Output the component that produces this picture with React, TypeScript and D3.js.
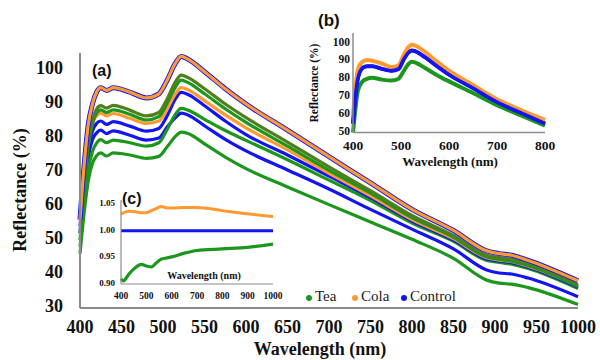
import * as d3 from 'd3'

// Main panel (a): reflectance spectra, 8 curves
const WL = [400, 405, 410, 415, 420, 425, 432, 440, 460, 480, 495, 505, 515, 522, 530, 550, 575, 600, 650, 700, 750, 800, 850, 890, 905, 920, 940, 1000]

const colaTop = [56, 72, 84, 90, 93.5, 94.8, 94, 94.8, 93.5, 91.8, 93, 97, 102, 104, 103.2, 99.5, 94.5, 90, 82.3, 74.5, 66.8, 59, 52.8, 46.8, 46, 45.5, 44, 38]
const teaOlive = [52, 67, 79, 85, 88.5, 89.5, 88.8, 89.6, 88.2, 86.5, 87.5, 91.5, 96.5, 98.5, 97.8, 94.5, 90, 86, 78.8, 71.5, 64.5, 57.2, 51.3, 45.5, 44.8, 44.3, 43, 36.8]
const teaHigh = [50, 65, 77.5, 84, 87.3, 88.3, 87.5, 88.3, 87, 85.3, 86.3, 90.2, 95, 97, 96.3, 93, 88.6, 84.6, 77.6, 70.5, 63.8, 56.6, 50.8, 45, 44.3, 43.8, 42.5, 36.3]
const colaMid = [57, 70, 80, 84.5, 86.5, 87.3, 86.5, 87.2, 85.8, 84.3, 85, 88.5, 93, 94.8, 94.2, 91, 86.8, 83, 76.5, 69.6, 63, 56, 50.4, 44.8, 44.1, 43.6, 42.3, 36.5]
const controlHigh = [54, 67, 77, 82, 84.3, 85, 84, 84.8, 83.5, 82, 82.8, 86.5, 91.5, 93.4, 92.8, 89.5, 85, 81, 75, 68.8, 62.5, 55.6, 50, 44.4, 43.8, 43.3, 42, 36.1]
const teaMid = [48, 60, 70.5, 76, 78.5, 79.5, 78.6, 79.4, 78.6, 77.6, 78.6, 82.5, 87, 88.7, 88.2, 85.5, 82.2, 79.3, 73.6, 67.6, 61.6, 55, 49.6, 44, 43.4, 42.9, 41.6, 35.7]
const controlLow = [52, 65, 74.5, 79.5, 81.5, 82.3, 81.3, 82.1, 80.8, 79.4, 80, 83.2, 86, 87.3, 86.8, 83.6, 79.6, 76.2, 70.6, 65, 59, 53.2, 47.4, 41.2, 40.3, 40, 38.8, 33.3]
const teaLow = [46, 58, 67.5, 72.5, 74.8, 75.6, 74.7, 75.6, 75, 74, 74.6, 77.4, 80.5, 81.7, 81.3, 78.3, 74.4, 71, 65.6, 60.4, 55.3, 50.2, 44.6, 38.2, 37.3, 37, 36, 31]

const X_TICKS = [400, 450, 500, 550, 600, 650, 700, 750, 800, 850, 900, 950, 1000]
const Y_TICKS = [30, 40, 50, 60, 70, 80, 90, 100]

// Inset (b): mean spectra 400-800 nm
const WL_B = [400, 405, 410, 420, 430, 440, 460, 480, 495, 505, 515, 522, 530, 550, 575, 600, 650, 700, 750, 800]
const colaB = [60, 75, 85, 89.5, 90.5, 90, 88.5, 86.5, 87.5, 93, 97.5, 99, 98.5, 95, 89.5, 84.5, 76.5, 68.5, 62.5, 57]
const controlB = [55, 70, 80, 86, 87, 87, 85.5, 84.5, 85.5, 90.5, 94.5, 95.8, 95.3, 92, 87, 82.3, 74.8, 67, 61, 55]
const teaB = [50, 63, 73, 78.5, 80, 80.5, 79.5, 79, 80, 84, 88, 89.5, 89, 86, 82, 78.5, 72, 65.2, 59.5, 53.8]
const X_TICKS_B = [400, 500, 600, 700, 800]
const Y_TICKS_B = [50, 60, 70, 80, 90, 100]

// Inset (c): ratio to control
const WL_C = [400, 410, 430, 460, 480, 500, 520, 540, 560, 580, 600, 650, 700, 800, 900, 1000]
const colaC = [1.031, 1.034, 1.037, 1.036, 1.034, 1.034, 1.038, 1.042, 1.046, 1.043, 1.043, 1.044, 1.044, 1.038, 1.032, 1.027]
const controlC = [1, 1, 1, 1, 1, 1, 1, 1, 1, 1, 1, 1, 1, 1, 1, 1]
const teaC = [0.91, 0.906, 0.918, 0.932, 0.937, 0.934, 0.932, 0.94, 0.947, 0.949, 0.951, 0.958, 0.963, 0.966, 0.969, 0.975]
const X_TICKS_C = [400, 500, 600, 700, 800, 900, 1000]
const Y_TICKS_C = [0.9, 0.95, 1.0, 1.05]

const ORANGE = '#ff9a30'
const BLUE = '#1414f0'
const GREEN = '#1c961c'
const OLIVE = '#4f7f1f'
const AXIS = '#8c8c8c'
const SERIF = '"Liberation Serif", "Times New Roman", serif'
const SANS = '"Liberation Sans", Arial, sans-serif'

const mainSeries = [
  { values: teaLow, color: GREEN },
  { values: controlLow, color: BLUE },
  { values: teaMid, color: GREEN },
  { values: controlHigh, color: BLUE },
  { values: colaMid, color: ORANGE },
  { values: teaHigh, color: GREEN },
  { values: teaOlive, color: OLIVE },
  { values: colaTop, color: ORANGE, outline: BLUE },
]

const legend = [
  { label: 'Tea', color: GREEN },
  { label: 'Cola', color: ORANGE },
  { label: 'Control', color: BLUE },
]

export default function App() {
  // main scales
  const x = d3.scaleLinear().domain([400, 1000]).range([80, 578])
  const y = d3.scaleLinear().domain([30, 105]).range([308, 53])
  const mainLine = d3
    .line<number>()
    .x((_, i) => x(WL[i]))
    .y((d) => y(d))
    .curve(d3.curveMonotoneX)

  // inset b
  const xb = d3.scaleLinear().domain([400, 800]).range([353, 545])
  const yb = d3.scaleLinear().domain([50, 105.5]).range([132.5, 33])
  const lineB = d3
    .line<number>()
    .x((_, i) => xb(WL_B[i]))
    .y((d) => yb(d))
    .curve(d3.curveMonotoneX)

  // inset c
  const xc = d3.scaleLinear().domain([400, 1000]).range([121, 273])
  const yc = d3.scaleLinear().domain([0.9, 1.058]).range([284, 200])
  const lineC = d3
    .line<number>()
    .x((_, i) => xc(WL_C[i]))
    .y((d) => yc(d))
    .curve(d3.curveMonotoneX)

  return (
    <svg
      width={600}
      height={360}
      style={{ position: 'absolute', left: 0, top: 0, background: '#fff' }}
    >
      {/* main panel lines */}
      {mainSeries.map((s, i) => (
        <g key={i}>
          {s.outline && (
            <path d={mainLine(s.values) ?? ''} fill="none" stroke={s.outline} strokeWidth={5} />
          )}
          <path d={mainLine(s.values) ?? ''} fill="none" stroke={s.color} strokeWidth={3.2} />
        </g>
      ))}

      {/* main axes */}
      <line x1={x(400)} x2={x(1000)} y1={y(30)} y2={y(30)} stroke={AXIS} strokeWidth={2} />
      <line x1={x(400)} x2={x(400)} y1={y(30)} y2={y(105)} stroke={AXIS} strokeWidth={2} />
      {X_TICKS.map((t) => (
        <text
          key={t}
          x={x(t)}
          y={329}
          textAnchor="middle"
          dominantBaseline="middle"
          style={{ font: `bold 18px ${SERIF}`, fill: '#111' }}
        >
          {t}
        </text>
      ))}
      {Y_TICKS.map((t) => (
        <text
          key={t}
          x={63}
          y={y(t)}
          textAnchor="end"
          dominantBaseline="middle"
          style={{ font: `bold 18px ${SERIF}`, fill: '#111' }}
        >
          {t}
        </text>
      ))}
      <text x={320} y={355} textAnchor="middle" style={{ font: `bold 18px ${SERIF}`, fill: '#111' }}>
        Wavelength (nm)
      </text>
      <text
        transform="translate(22,190) rotate(-90)"
        textAnchor="middle"
        dominantBaseline="middle"
        style={{ font: `bold 18px ${SERIF}`, fill: '#111' }}
      >
        Reflectance (%)
      </text>
      <text x={92} y={76} style={{ font: `bold 16px ${SANS}`, fill: '#111' }}>
        (a)
      </text>

      {/* legend */}
      {legend.map((l, i) => {
        const lx = [309, 355, 404][i]
        return (
          <g key={l.label}>
            <circle cx={lx} cy={298} r={3} fill={l.color} />
            <text
              x={lx + 6}
              y={298}
              dominantBaseline="middle"
              style={{ font: `15px ${SERIF}`, fill: '#222' }}
            >
              {l.label}
            </text>
          </g>
        )
      })}

      {/* inset (b) */}
      <text x={318} y={26} style={{ font: `bold 17px ${SANS}`, fill: '#111' }}>
        (b)
      </text>
      {[
        { v: teaB, c: GREEN },
        { v: controlB, c: BLUE },
        { v: colaB, c: ORANGE },
      ].map((s, i) => (
        <path key={i} d={lineB(s.v) ?? ''} fill="none" stroke={s.c} strokeWidth={4} />
      ))}
      <path d={lineB(controlB) ?? ''} fill="none" stroke={BLUE} strokeWidth={3.5} />
      <line x1={xb(400)} x2={xb(800)} y1={yb(50)} y2={yb(50)} stroke={AXIS} strokeWidth={1.5} />
      <line x1={xb(400)} x2={xb(400)} y1={yb(50)} y2={yb(105.5)} stroke={AXIS} strokeWidth={1.5} />
      {X_TICKS_B.map((t) => (
        <text
          key={t}
          x={xb(t)}
          y={147}
          textAnchor="middle"
          dominantBaseline="middle"
          style={{ font: `bold 13.5px ${SERIF}`, fill: '#111' }}
        >
          {t}
        </text>
      ))}
      {Y_TICKS_B.map((t) => (
        <text
          key={t}
          x={350}
          y={yb(t)}
          textAnchor="end"
          dominantBaseline="middle"
          style={{ font: `bold 11.5px ${SERIF}`, fill: '#111' }}
        >
          {t}
        </text>
      ))}
      <text
        x={450}
        y={163}
        textAnchor="middle"
        dominantBaseline="middle"
        style={{ font: `bold 13px ${SERIF}`, fill: '#111' }}
      >
        Wavelength (nm)
      </text>
      <text
        transform="translate(315,83) rotate(-90)"
        textAnchor="middle"
        dominantBaseline="middle"
        style={{ font: `bold 11.5px ${SERIF}`, fill: '#111' }}
      >
        Reflectance  (%)
      </text>

      {/* inset (c) */}
      <text x={122} y={204} style={{ font: `bold 16px ${SANS}`, fill: '#111' }}>
        (c)
      </text>
      <path d={lineC(colaC) ?? ''} fill="none" stroke={ORANGE} strokeWidth={3} />
      <path d={lineC(controlC) ?? ''} fill="none" stroke={BLUE} strokeWidth={3} />
      <path d={lineC(teaC) ?? ''} fill="none" stroke={GREEN} strokeWidth={3.2} />
      <line x1={xc(400)} x2={xc(1000)} y1={yc(0.9)} y2={yc(0.9)} stroke={AXIS} strokeWidth={1.2} />
      <line x1={xc(400)} x2={xc(400)} y1={yc(0.9)} y2={yc(1.058)} stroke={AXIS} strokeWidth={1.2} />
      {X_TICKS_C.map((t) => (
        <text
          key={t}
          x={xc(t)}
          y={297}
          textAnchor="middle"
          dominantBaseline="middle"
          style={{ font: `bold 9.5px ${SERIF}`, fill: '#111' }}
        >
          {t}
        </text>
      ))}
      {Y_TICKS_C.map((t) => (
        <text
          key={t}
          x={115}
          y={yc(t)}
          textAnchor="end"
          dominantBaseline="middle"
          style={{ font: `bold 9px ${SERIF}`, fill: '#111' }}
        >
          {d3.format('.2f')(t)}
        </text>
      ))}
      <text
        x={204}
        y={277}
        textAnchor="middle"
        dominantBaseline="middle"
        style={{ font: `bold 10px ${SERIF}`, fill: '#111' }}
      >
        Wavelength (nm)
      </text>
    </svg>
  )
}
